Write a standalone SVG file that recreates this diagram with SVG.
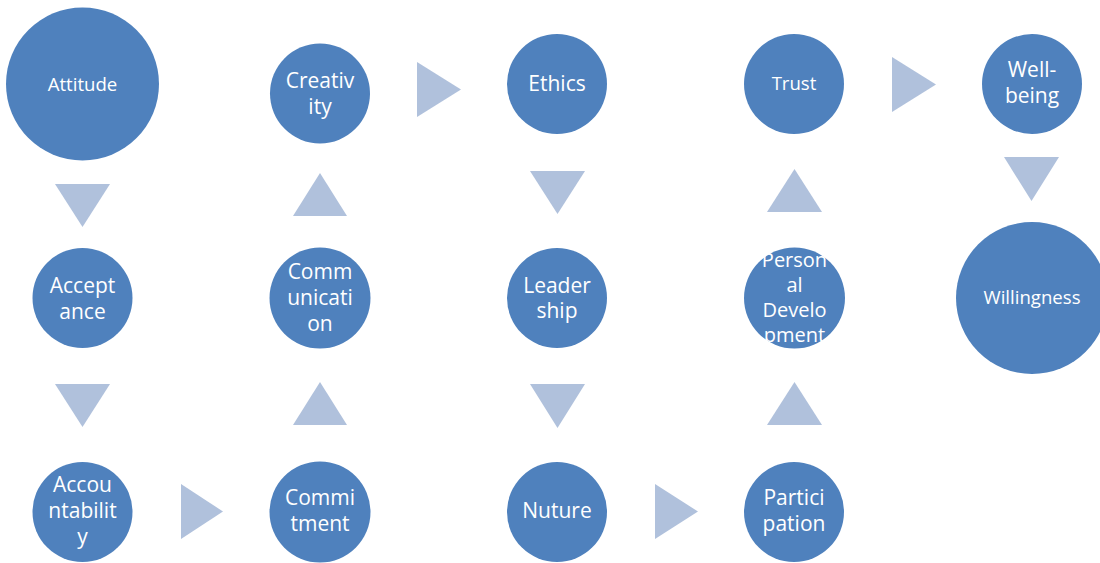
<svg xmlns="http://www.w3.org/2000/svg" width="1100" height="563" viewBox="0 0 1100 563">
<style>
.n{fill:#4F81BD}
.a{fill:#B0C1DC}
.t{fill:#FFFFFF;font-family:"Open Sans","Noto Sans","Liberation Sans",sans-serif;font-size:21px;text-anchor:middle}
.s{font-size:18.6px}
.p{font-size:20px}
</style>
<rect width="1100" height="563" fill="#FFFFFF"/>
<g id="connectors">
<polygon class="a" points="55,184 110,184 82.5,227"/>
<polygon class="a" points="55,384 110,384 82.5,427"/>
<polygon class="a" points="181,484 181,539 223,511.5"/>
<polygon class="a" points="293,425 347,425 320,382"/>
<polygon class="a" points="293,216 347,216 320,173"/>
<polygon class="a" points="417,62 417,117 461,89.5"/>
<polygon class="a" points="530,171 585,171 557.5,214"/>
<polygon class="a" points="530,384 585,384 557.5,428"/>
<polygon class="a" points="655,484 655,539 698,511.5"/>
<polygon class="a" points="767,425 822,425 794.5,382"/>
<polygon class="a" points="767,212 822,212 794.5,169"/>
<polygon class="a" points="892,57 892,112 936,84.5"/>
<polygon class="a" points="1004,157 1059,157 1031.5,201"/>
</g>
<g id="attitude"><circle class="n" cx="82.5" cy="84" r="76.5"/><text class="t s" x="82.5" y="91">Attitude</text></g>
<g id="acceptance"><circle class="n" cx="82.5" cy="298" r="50"/><text class="t" x="82.5" y="293">Accept</text><text class="t" x="82.5" y="318.5">ance</text></g>
<g id="accountability"><circle class="n" cx="82.5" cy="512" r="50"/><text class="t" x="82.5" y="492">Accou</text><text class="t" x="82.5" y="518">ntabilit</text><text class="t" x="82.5" y="544">y</text></g>
<g id="commitment"><circle class="n" cx="320" cy="512" r="50.5"/><text class="t" x="320" y="505">Commi</text><text class="t" x="320" y="531">tment</text></g>
<g id="communication"><circle class="n" cx="320" cy="298" r="50.5"/><text class="t" x="320" y="279">Comm</text><text class="t" x="320" y="305">unicati</text><text class="t" x="320" y="331">on</text></g>
<g id="creativity"><circle class="n" cx="320" cy="93.5" r="50"/><text class="t" x="320" y="88">Creativ</text><text class="t" x="320" y="114">ity</text></g>
<g id="ethics"><circle class="n" cx="557" cy="84" r="50"/><text class="t" x="557" y="90.5">Ethics</text></g>
<g id="leadership"><circle class="n" cx="557" cy="298" r="50"/><text class="t" x="557" y="292.5">Leader</text><text class="t" x="557" y="318">ship</text></g>
<g id="nuture"><circle class="n" cx="557" cy="512" r="50"/><text class="t" x="557" y="517.5">Nuture</text></g>
<g id="participation"><circle class="n" cx="794" cy="512" r="50"/><text class="t" x="794" y="505">Partici</text><text class="t" x="794" y="531">pation</text></g>
<g id="personal-development"><circle class="n" cx="794.5" cy="298" r="50.5"/><text class="t p" x="794.5" y="266.5">Person</text><text class="t p" x="794.5" y="291.5">al</text><text class="t p" x="794.5" y="316.5">Develo</text><text class="t p" x="794.5" y="342">pment</text></g>
<g id="trust"><circle class="n" cx="794" cy="84" r="50"/><text class="t s" x="794" y="90">Trust</text></g>
<g id="well-being"><circle class="n" cx="1032" cy="84" r="50"/><text class="t" x="1032" y="77">Well-</text><text class="t" x="1032" y="103">being</text></g>
<g id="willingness"><circle class="n" cx="1032" cy="298" r="76"/><text class="t s" x="1032" y="304">Willingness</text></g>
</svg>
